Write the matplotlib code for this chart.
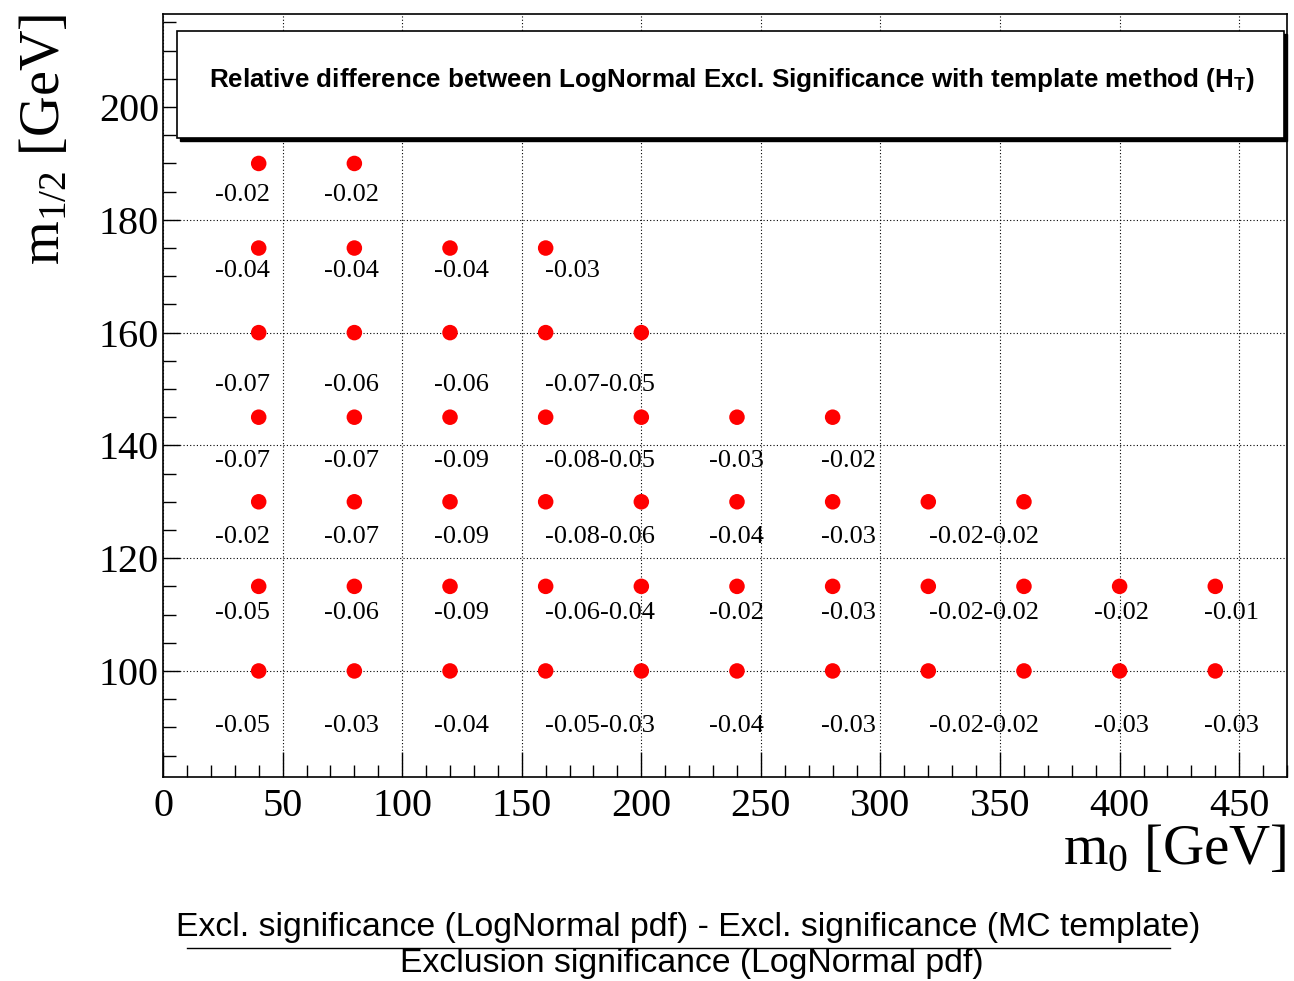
import matplotlib
matplotlib.use("Agg")
import matplotlib.pyplot as plt
from matplotlib.patches import Rectangle
from matplotlib.lines import Line2D
from matplotlib.ticker import MultipleLocator

plt.rcParams['mathtext.fontset'] = 'custom'
plt.rcParams['mathtext.rm'] = 'Liberation Serif'
plt.rcParams['mathtext.it'] = 'Liberation Serif:italic'
plt.rcParams['mathtext.bf'] = 'Liberation Sans:bold'

# grid of (m0, m1/2) points and the relative difference at each
m0_cols = [40, 80, 120, 160, 200, 240, 280, 320, 360, 400, 440]
m12_rows = [190, 175, 160, 145, 130, 115, 100]
values = [
    [-0.02, -0.02],
    [-0.04, -0.04, -0.04, -0.03],
    [-0.07, -0.06, -0.06, -0.07, -0.05],
    [-0.07, -0.07, -0.09, -0.08, -0.05, -0.03, -0.02],
    [-0.02, -0.07, -0.09, -0.08, -0.06, -0.04, -0.03, -0.02, -0.02],
    [-0.05, -0.06, -0.09, -0.06, -0.04, -0.02, -0.03, -0.02, -0.02, -0.02, -0.01],
    [-0.05, -0.03, -0.04, -0.05, -0.03, -0.04, -0.03, -0.02, -0.02, -0.03, -0.03],
]

# where the number labels sit (text layout, one per column / row)
label_x = [21.8, 67.4, 113.4, 159.8, 182.8, 228.5, 275.0, 320.1, 343.5, 389.1, 435.1]
label_y = [184.4, 171.0, 150.7, 137.3, 123.8, 110.3, 90.3]

fig = plt.figure(figsize=(12.94, 9.81), dpi=100)
ax = fig.add_axes([0.126, 0.208, 0.8686, 0.7777])

xs, ys = [], []
for r, row in enumerate(values):
    for c, v in enumerate(row):
        xs.append(m0_cols[c])
        ys.append(m12_rows[r])
        ax.text(label_x[c], label_y[r], f"{v:.2f}", ha='left', va='center',
                fontsize=19, family='Liberation Serif', zorder=4)
ax.scatter(xs, ys, s=125, color='#ff0000', edgecolors='none', zorder=3)

ax.set_xlim(0, 470)
ax.set_ylim(81.2, 216.5)
ax.xaxis.set_major_locator(MultipleLocator(50))
ax.xaxis.set_minor_locator(MultipleLocator(10))
ax.yaxis.set_major_locator(MultipleLocator(20))
ax.yaxis.set_minor_locator(MultipleLocator(5))
ax.tick_params(which='major', direction='in', length=12, width=1, labelsize=29, pad=8)
ax.tick_params(axis='y', which='major', pad=3)
ax.tick_params(axis='x', which='major', length=18)
ax.tick_params(axis='x', which='minor', direction='in', length=9, width=1)
ax.tick_params(axis='y', which='minor', direction='in', length=9, width=1)
for lab in ax.get_xticklabels() + ax.get_yticklabels():
    lab.set_family('Liberation Serif')
ax.grid(True, which='major', color='black', linestyle=(0, (1, 2)), linewidth=0.8)
ax.set_axisbelow(True)
for sp in ax.spines.values():
    sp.set_linewidth(1.2)

fig.text(0.9946, 0.134, r'$\mathrm{m}_{0}$ [GeV]', ha='right', va='center',
         fontsize=41, family='Liberation Serif')
fig.text(0.035, 0.9857, r'$\mathrm{m}_{1/2}$ [GeV]', ha='center', va='top',
         rotation=90, fontsize=40.5, family='Liberation Serif')

# title box with shadow
bx0, by0, bw, bh = 0.1368, 0.8593, 0.8555, 0.1091
shadow = Rectangle((bx0 + 0.002, by0 - 0.003), bw, bh, transform=fig.transFigure,
                   facecolor='black', edgecolor='black', zorder=5)
box = Rectangle((bx0, by0), bw, bh, transform=fig.transFigure,
                facecolor='white', edgecolor='black', linewidth=1.2, zorder=6)
fig.add_artist(shadow)
fig.add_artist(box)
fig.text(0.5657, 0.918, r'Relative difference between LogNormal Excl. Significance with template method (H$_\mathbf{T}$)',
         ha='center', va='center', fontsize=18.7, fontweight='bold',
         family='Liberation Sans', zorder=7)

# fraction below the plot
fig.text(0.532, 0.055, 'Excl. significance (LogNormal pdf) - Excl. significance (MC template)',
         ha='center', va='center', fontsize=24.3, family='Liberation Sans')
fig.add_artist(Line2D([0.1445, 0.904], [0.0336, 0.0336], transform=fig.transFigure,
                      color='black', linewidth=1))
fig.text(0.535, 0.0175, 'Exclusion significance (LogNormal pdf)',
         ha='center', va='center', fontsize=24.3, family='Liberation Sans')

fig.savefig('out.png', dpi=100)
